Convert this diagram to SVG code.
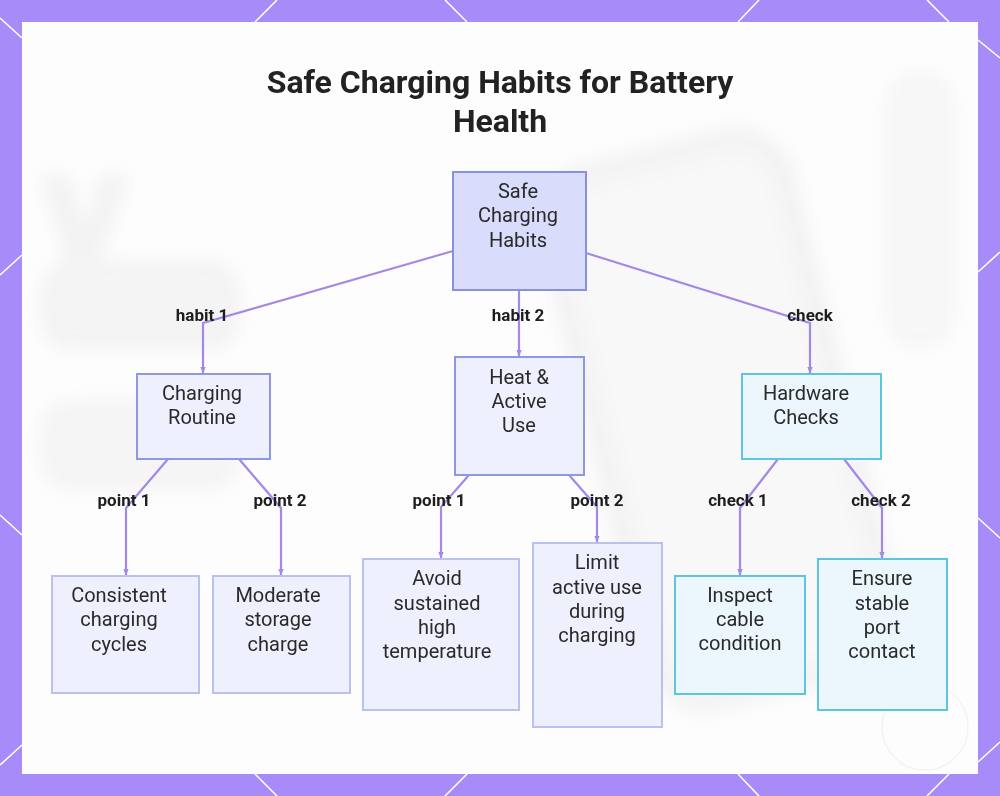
<svg xmlns="http://www.w3.org/2000/svg" width="1000" height="796" viewBox="0 0 1000 796">
<style>
.frame-line{stroke:#ffffff;stroke-width:1.6;fill:none}
.title{font-family:Roboto,"Liberation Sans",sans-serif;font-weight:700;font-size:32px;fill:#222222;text-anchor:middle}
.nt{font-family:Roboto,"Liberation Sans",sans-serif;font-size:20px;fill:#2a2a2a;text-anchor:middle}
.lbl{font-family:Roboto,"Liberation Sans",sans-serif;font-weight:700;font-size:17px;fill:#1e1e1e;text-anchor:middle}
.conn{stroke:#a488e8;stroke-width:2.2;fill:none;marker-end:url(#arr)}
.root{fill:#d9dcfa;stroke:#8890e0;stroke-width:2}
.mid{fill:#eef1fd;stroke:#8e98e0;stroke-width:2}
.leaf{fill:#eef1fd;stroke:#b9c1ee;stroke-width:2}
.cmid{fill:#ebf7fd;stroke:#5cc6dd;stroke-width:2}
.cleaf{fill:#ebf7fd;stroke:#5cc6dd;stroke-width:2}
</style>
<defs>
<marker id="arr" viewBox="0 0 10 10" refX="9" refY="5" markerWidth="3" markerHeight="3" orient="auto">
<path d="M0,1 L10,5 L0,9 z" fill="#a488e8"/>
</marker>
<filter id="blur" x="-20%" y="-20%" width="140%" height="140%">
<feGaussianBlur stdDeviation="9"/>
</filter>
</defs>
<!-- frame -->
<rect x="0" y="0" width="1000" height="796" fill="#a78bf8"/>
<g class="frame-line">
<line x1="277" y1="0" x2="255" y2="22"/>
<line x1="445" y1="0" x2="467" y2="22"/>
<line x1="759" y1="0" x2="738" y2="22"/>
<line x1="927" y1="0" x2="949" y2="22"/>
<line x1="255" y1="774" x2="277" y2="796"/>
<line x1="467" y1="774" x2="445" y2="796"/>
<line x1="738" y1="774" x2="759" y2="796"/>
<line x1="949" y1="774" x2="927" y2="796"/>
<line x1="0" y1="18" x2="22" y2="38"/>
<line x1="0" y1="275" x2="22" y2="255"/>
<line x1="0" y1="515" x2="22" y2="535"/>
<line x1="0" y1="765" x2="22" y2="745"/>
<line x1="978" y1="40" x2="1000" y2="58"/>
<line x1="978" y1="272" x2="1000" y2="252"/>
<line x1="978" y1="518" x2="1000" y2="538"/>
<line x1="978" y1="762" x2="1000" y2="742"/>
</g>
<rect x="22" y="22" width="956" height="752" fill="#fdfdfd"/>
<!-- faint blurred background -->
<g filter="url(#blur)" opacity="0.35">
<path d="M40,175 L70,175 L85,230 L100,175 L130,175 L95,270 L70,270 Z" fill="#e0e0e0"/>
<rect x="40" y="260" width="200" height="90" rx="30" fill="#e3e3e3"/>
<rect x="40" y="400" width="200" height="90" rx="30" fill="#e6e6e6"/>
<rect x="600" y="150" width="240" height="540" rx="50" fill="#eeeeee" stroke="#e0e0e0" stroke-width="24" transform="rotate(-14 720 420)"/>
<rect x="885" y="70" width="70" height="280" rx="35" fill="#ececec"/>
</g>
<circle cx="925" cy="727" r="43" fill="none" stroke="#f3f3f3" stroke-width="1.5"/>
<!-- title -->
<g id="title">
<text class="title" x="500" y="93">Safe Charging Habits for Battery</text>
<text class="title" x="500" y="132">Health</text>
</g>
<!-- connectors -->
<g id="connectors">
<polyline class="conn" points="453,251 203,323 203,373"/>
<polyline class="conn" points="519,290 519,356"/>
<polyline class="conn" points="586,253 810,323 810,373"/>
<polyline class="conn" points="168,459 126,508 126,575"/>
<polyline class="conn" points="239,459 281,508 281,575"/>
<polyline class="conn" points="469,475 441,507 441,558"/>
<polyline class="conn" points="569,475 597,507 597,542"/>
<polyline class="conn" points="778,459 740,508 740,575"/>
<polyline class="conn" points="844,459 882,508 882,558"/>
<text class="lbl" x="202" y="321">habit 1</text>
<text class="lbl" x="518" y="321">habit 2</text>
<text class="lbl" x="810" y="321">check</text>
<text class="lbl" x="124" y="506">point 1</text>
<text class="lbl" x="280" y="506">point 2</text>
<text class="lbl" x="439" y="506">point 1</text>
<text class="lbl" x="597" y="506">point 2</text>
<text class="lbl" x="738" y="506">check 1</text>
<text class="lbl" x="881" y="506">check 2</text>
</g>
<!-- nodes -->
<g id="root">
<rect class="root" x="453" y="172" width="133" height="118"/>
<text class="nt" x="518" y="198">Safe</text>
<text class="nt" x="518" y="222">Charging</text>
<text class="nt" x="518" y="247">Habits</text>
</g>
<g id="charging-routine">
<rect class="mid" x="137" y="374" width="133" height="85"/>
<text class="nt" x="202" y="400">Charging</text>
<text class="nt" x="202" y="424">Routine</text>
</g>
<g id="heat-active-use">
<rect class="mid" x="455" y="357" width="129" height="118"/>
<text class="nt" x="519" y="384">Heat &amp;</text>
<text class="nt" x="519" y="408">Active</text>
<text class="nt" x="519" y="432">Use</text>
</g>
<g id="hardware-checks">
<rect class="cmid" x="742" y="374" width="139" height="85"/>
<text class="nt" x="806" y="400">Hardware</text>
<text class="nt" x="806" y="424">Checks</text>
</g>
<g id="consistent-cycles">
<rect class="leaf" x="52" y="576" width="147" height="117"/>
<text class="nt" x="119" y="602">Consistent</text>
<text class="nt" x="119" y="626">charging</text>
<text class="nt" x="119" y="651">cycles</text>
</g>
<g id="moderate-storage">
<rect class="leaf" x="213" y="576" width="137" height="117"/>
<text class="nt" x="278" y="602">Moderate</text>
<text class="nt" x="278" y="626">storage</text>
<text class="nt" x="278" y="651">charge</text>
</g>
<g id="avoid-high-temp">
<rect class="leaf" x="363" y="559" width="156" height="151"/>
<text class="nt" x="437" y="585">Avoid</text>
<text class="nt" x="437" y="610">sustained</text>
<text class="nt" x="437" y="634">high</text>
<text class="nt" x="437" y="658">temperature</text>
</g>
<g id="limit-active-use">
<rect class="leaf" x="533" y="543" width="129" height="184"/>
<text class="nt" x="597" y="569">Limit</text>
<text class="nt" x="597" y="594">active use</text>
<text class="nt" x="597" y="618">during</text>
<text class="nt" x="597" y="642">charging</text>
</g>
<g id="inspect-cable">
<rect class="cleaf" x="675" y="576" width="130" height="118"/>
<text class="nt" x="740" y="602">Inspect</text>
<text class="nt" x="740" y="626">cable</text>
<text class="nt" x="740" y="650">condition</text>
</g>
<g id="ensure-port">
<rect class="cleaf" x="818" y="559" width="129" height="151"/>
<text class="nt" x="882" y="585">Ensure</text>
<text class="nt" x="882" y="610">stable</text>
<text class="nt" x="882" y="634">port</text>
<text class="nt" x="882" y="658">contact</text>
</g>
</svg>
